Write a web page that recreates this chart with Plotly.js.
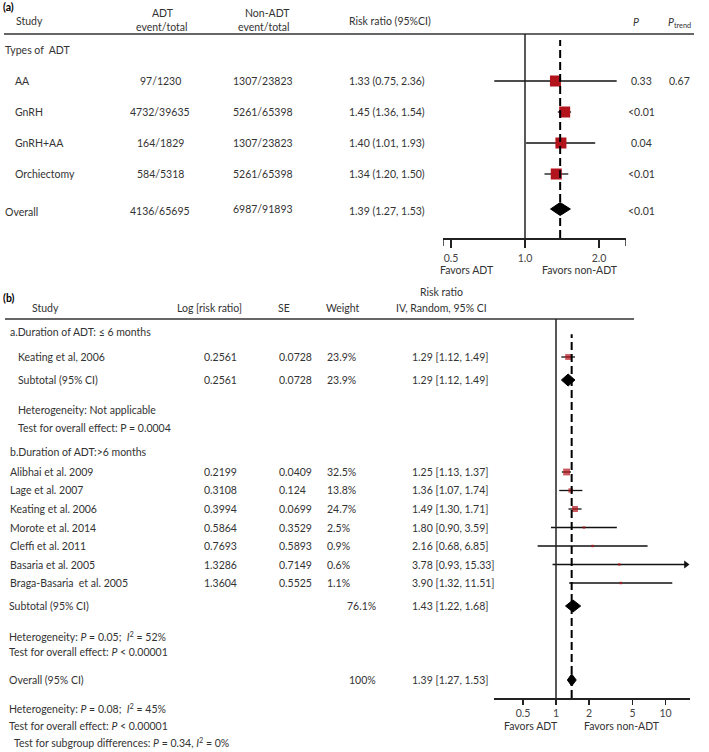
<!DOCTYPE html>
<html>
<head>
<meta charset="utf-8">
<script src="https://cdn.plot.ly/plotly-3.0.1.min.js"></script>
<style>html,body{margin:0;padding:0;background:#fff}#chart{width:709px;height:752px}</style>
</head>
<body>
<div id="chart"></div>
<script>
// ---------- DATA: panel (a) ----------
const typesA = ['AA', 'GnRH', 'GnRH+AA', 'Orchiectomy'];
const adtA = ['97/1230', '4732/39635', '164/1829', '584/5318'];
const nonAdtA = ['1307/23823', '5261/65398', '1307/23823', '5261/65398'];
const rrA = [1.33, 1.45, 1.40, 1.34];
const loA = [0.75, 1.36, 1.01, 1.20];
const hiA = [2.36, 1.54, 1.93, 1.50];
const pA = ['0.33', '<0.01', '0.04', '<0.01'];
const pTrendA = '0.67';
const overallAdtA = '4136/65695';
const overallNonAdtA = '6987/91893';
const overallRrA = [1.39, 1.27, 1.53];   // estimate, lower, upper
const overallPA = '<0.01';
const ticksA = [0.5, 1.0, 2.0];

// ---------- DATA: panel (b) ----------
const studiesB1 = ['Keating et al, 2006'];
const logRrB1 = ['0.2561'];
const seB1 = ['0.0728'];
const weightB1 = [23.9];
const rrB1 = [1.29];
const loB1 = [1.12];
const hiB1 = [1.49];
const subtotalB1 = [1.29, 1.12, 1.49];
const subtotalB1Cols = ['0.2561', '0.0728', 23.9];

const studiesB2 = ['Alibhai et al. 2009', 'Lage et al. 2007', 'Keating et al. 2006', 'Morote et al. 2014',
  'Cleffi et al. 2011', 'Basaria et al. 2005', 'Braga-Basaria  et al. 2005'];
const logRrB2 = ['0.2199', '0.3108', '0.3994', '0.5864', '0.7693', '1.3286', '1.3604'];
const seB2 = ['0.0409', '0.124', '0.0699', '0.3529', '0.5893', '0.7149', '0.5525'];
const weightB2 = [32.5, 13.8, 24.7, 2.5, 0.9, 0.6, 1.1];
const rrB2 = [1.25, 1.36, 1.49, 1.80, 2.16, 3.78, 3.90];
const loB2 = [1.13, 1.07, 1.30, 0.90, 0.68, 0.93, 1.32];
const hiB2 = [1.37, 1.74, 1.71, 3.59, 6.85, 15.33, 11.51];
const subtotalB2 = [1.43, 1.22, 1.68];
const subtotalB2Weight = 76.1;
const overallB = [1.39, 1.27, 1.53];
const overallBWeight = 100;
const ticksB = [0.5, 1, 2, 5, 10];

const notesB1 = ['Heterogeneity: Not applicable', 'Test for overall effect: P = 0.0004'];
const notesB2 = ['Heterogeneity: <i>P</i> = 0.05;  <i>I</i><sup>2</sup> = 52%', 'Test for overall effect: <i>P</i> &lt; 0.00001'];
const notesAll = ['Heterogeneity: <i>P</i> = 0.08;  <i>I</i><sup>2</sup> = 45%', 'Test for overall effect: <i>P</i> &lt; 0.00001',
  'Test for subgroup differences: <i>P</i> = 0.34, <i>I</i><sup>2</sup> = 0%'];

// ---------- LAYOUT HELPERS ----------
const W = 709, H = 752;
const px = x => x / W;
const py = y => 1 - y / H;
const FONT = 'Lato, Open Sans, sans-serif';
const FS = 10.5;
const TXT = '#333';
const RED = '#b3131b';
const ann = [];
function t(text, x, y, anchor, opt) {
  opt = opt || {};
  ann.push({ xref: 'paper', yref: 'paper', x: px(x), y: py(y), text: text, showarrow: false,
    xanchor: anchor || 'left', yanchor: 'middle',
    font: { family: FONT, size: opt.size || FS, color: opt.color || TXT } });
}
const f2 = v => v.toFixed(2);

// row slots (table layout)
const rowA = i => 81 + 31 * i;
const rowOverallA = 211;
const rowB1 = i => 357 + 18.5 * i;
const rowSubB1 = 380;
const rowB2 = i => 472 + 18.5 * i;
const rowSubB2 = 606;
const rowOverallB = 680;

// ---------- Panel (a) text ----------
t('<b>(a)</b>', 1, 7, 'left', { color: '#000' });
t('Study', 14, 21);
t('ADT', 163, 13, 'center');
t('event/total', 161, 27, 'center');
t('Non-ADT', 267, 13, 'center');
t('event/total', 263, 27, 'center');
t('Risk ratio (95%CI)', 347, 21);
t('<i>P</i>', 636, 22, 'center');
t('<i>P</i><sub>trend</sub>', 666, 23);
t('Types of  ADT', 3, 50);
typesA.forEach((n, i) => {
  const y = rowA(i);
  t(n, 13, y);
  t(adtA[i], 160, y, 'center');
  t(nonAdtA[i], 263, y, 'center');
  t(f2(rrA[i]) + ' (' + f2(loA[i]) + ', ' + f2(hiA[i]) + ')', 347, y);
  t(pA[i].replace('<', '&lt;'), 641, y, 'center');
});
t(pTrendA, 679, rowA(0), 'center');
t('Overall', 3, rowOverallA + 1);
t(overallAdtA, 160, rowOverallA, 'center');
t(overallNonAdtA, 263, rowOverallA - 2, 'center');
t(f2(overallRrA[0]) + ' (' + f2(overallRrA[1]) + ', ' + f2(overallRrA[2]) + ')', 347, rowOverallA);
t(overallPA.replace('<', '&lt;'), 641, rowOverallA, 'center');
t('Favors ADT', 467, 270, 'center');
t('Favors non-ADT', 580, 270, 'center');

// ---------- Panel (b) text ----------
t('<b>(b)</b>', 1, 298, 'left', { color: '#000' });
t('Study', 30, 308);
t('Log [risk ratio]', 209, 308, 'center');
t('SE', 284, 308, 'center');
t('Weight', 343, 308, 'center');
t('Risk ratio', 441, 292, 'center');
t('IV, Random, 95% CI', 441, 308, 'center');
t('a.Duration of ADT: ≤ 6 months', 8, 332);
studiesB1.forEach((n, i) => {
  const y = rowB1(i);
  t(n, 16, y);
  t(logRrB1[i], 202, y);
  t(seB1[i], 277, y);
  t(weightB1[i] + '%', 325, y);
  t(f2(rrB1[i]) + ' [' + f2(loB1[i]) + ', ' + f2(hiB1[i]) + ']', 410, y);
});
t('Subtotal (95% CI)', 16, rowSubB1);
t(subtotalB1Cols[0], 202, rowSubB1);
t(subtotalB1Cols[1], 277, rowSubB1);
t(subtotalB1Cols[2] + '%', 325, rowSubB1);
t(f2(subtotalB1[0]) + ' [' + f2(subtotalB1[1]) + ', ' + f2(subtotalB1[2]) + ']', 410, rowSubB1);
t(notesB1[0], 16, 410);
t(notesB1[1], 16, 428);
t('b.Duration of ADT:>6 months', 8, 452);
studiesB2.forEach((n, i) => {
  const y = rowB2(i);
  t(n.replace('  ', '&nbsp; '), 8, y);
  t(logRrB2[i], 202, y);
  t(seB2[i], 277, y);
  t(weightB2[i] + '%', 325, y);
  t(f2(rrB2[i]) + ' [' + f2(loB2[i]) + ', ' + f2(hiB2[i]) + ']', 410, y);
});
t('Subtotal (95% CI)', 7, rowSubB2);
t(subtotalB2Weight + '%', 345, rowSubB2);
t(f2(subtotalB2[0]) + ' [' + f2(subtotalB2[1]) + ', ' + f2(subtotalB2[2]) + ']', 410, rowSubB2);
t(notesB2[0], 7, 636);
t(notesB2[1], 7, 652);
t('Overall (95% CI)', 7, rowOverallB);
t(overallBWeight + '%', 347, rowOverallB);
t(f2(overallB[0]) + ' [' + f2(overallB[1]) + ', ' + f2(overallB[2]) + ']', 410, rowOverallB);
t(notesAll[0], 7, 708);
t(notesAll[1], 7, 726);
t(notesAll[2], 12, 742);
t('Favors ADT', 531, 726, 'center');
t('Favors non-ADT', 622, 726, 'center');

// ---------- Traces ----------
const traces = [];
function whiskers(x, lo, hi, y, xa, ya) {
  traces.push({ type: 'scatter', mode: 'markers', x: x, y: y, xaxis: xa, yaxis: ya,
    marker: { size: 1, opacity: 0 }, hoverinfo: 'skip',
    error_x: { type: 'data', symmetric: false, array: hi.map((h, i) => h - x[i]),
      arrayminus: lo.map((l, i) => x[i] - l), width: 0, thickness: 1.3, color: '#111' } });
}
function boxes(x, y, sizes, xa, ya) {
  traces.push({ type: 'scatter', mode: 'markers', x: x, y: y, xaxis: xa, yaxis: ya,
    marker: { symbol: 'square', size: sizes, color: RED, line: { width: 0 } }, hoverinfo: 'skip' });
}
function diamond(est, y, half, xa, ya) {
  traces.push({ type: 'scatter', mode: 'lines', xaxis: xa, yaxis: ya, fill: 'toself', fillcolor: '#000',
    line: { color: '#000', width: 1 }, hoverinfo: 'skip',
    x: [est[1], est[0], est[2], est[0], est[1]], y: [y, y - half, y, y + half, y] });
}
// panel a
const yA = typesA.map((_, i) => rowA(i));
whiskers(rrA, loA, hiA, yA, 'x', 'y');
boxes(rrA, yA, 11, 'x', 'y');
diamond(overallRrA, rowOverallA - 2, 6.5, 'x', 'y');
// panel b
const yB1 = studiesB1.map((_, i) => rowB1(i));
const yB2 = studiesB2.map((_, i) => rowB2(i));
const boxSize = w => Math.max(2.5, 12 * Math.sqrt(w / 100));
whiskers(rrB1.concat(rrB2), loB1.concat(loB2), hiB1.concat(hiB2), yB1.concat(yB2), 'x2', 'y2');
const ARROW_CUT = 15;
const arrowIdx = hiB2.map((h, i) => h > ARROW_CUT ? i : -1).filter(i => i >= 0);
traces.push({ type: 'scatter', mode: 'markers', xaxis: 'x2', yaxis: 'y2', hoverinfo: 'skip',
  x: arrowIdx.map(i => hiB2[i]), y: arrowIdx.map(i => yB2[i]),
  marker: { symbol: 'triangle-right', size: 7, color: '#111' } });
boxes(rrB1.concat(rrB2), yB1.concat(yB2), weightB1.concat(weightB2).map(boxSize), 'x2', 'y2');
diamond(subtotalB1, rowSubB1, 6, 'x2', 'y2');
diamond(subtotalB2, rowSubB2, 6, 'x2', 'y2');
diamond(overallB, rowOverallB, 6, 'x2', 'y2');

// ---------- Axes ----------
// panel a: 1.0 at x=525px, 74 px per doubling, axis from 443 to 626 px
const A_LEFT = 443, A_RIGHT = 626, A_ONE = 525, A_DBL = 74;
const aMin = Math.pow(2, (A_LEFT - A_ONE) / A_DBL), aMax = Math.pow(2, (A_RIGHT - A_ONE) / A_DBL);
// panel b: 1 at 556px, 109.6 px per decade, axis from 494 to 690 px
const B_LEFT = 494, B_RIGHT = 690, B_ONE = 556, B_DEC = 109.6;
const bMinL = (B_LEFT - B_ONE) / B_DEC, bMaxL = (B_RIGHT - B_ONE) / B_DEC;

const axisCommon = { type: 'log', showgrid: false, zeroline: false, showline: true, linecolor: '#222', linewidth: 1.5,
  ticks: 'outside', tickcolor: '#222', tickwidth: 1.5, tickfont: { family: FONT, size: FS, color: '#444' }, fixedrange: true };
const yCommon = { visible: false, showgrid: false, zeroline: false, fixedrange: true };

const layout = {
  width: W, height: H, margin: { l: 0, r: 0, t: 0, b: 0 }, showlegend: false,
  paper_bgcolor: '#fff', plot_bgcolor: 'rgba(0,0,0,0)', font: { family: FONT, size: FS, color: TXT },
  xaxis: Object.assign({}, axisCommon, { domain: [px(A_LEFT), px(A_RIGHT)], anchor: 'y',
    range: [Math.log10(aMin), Math.log10(aMax)], ticklen: 8, ticklabelstandoff: 2,
    tickvals: ticksA, ticktext: ticksA.map(v => v.toFixed(1)) }),
  yaxis: Object.assign({}, yCommon, { domain: [py(238), py(34)], range: [238, 34] }),
  xaxis2: Object.assign({}, axisCommon, { domain: [px(B_LEFT), px(B_RIGHT)], anchor: 'y2',
    range: [bMinL, bMaxL], ticklen: 5, tickvals: ticksB, ticktext: ticksB.map(String) }),
  yaxis2: Object.assign({}, yCommon, { domain: [py(698), py(319)], range: [698, 319] }),
  shapes: [
    // header rules
    { type: 'line', xref: 'paper', yref: 'paper', x0: px(4), x1: px(694), y0: py(34), y1: py(34), line: { color: '#333', width: 1.5 } },
    { type: 'line', xref: 'paper', yref: 'paper', x0: px(5), x1: px(634), y0: py(319), y1: py(319), line: { color: '#333', width: 1.5 } },
    // end ticks of panel (a) axis
    { type: 'line', xref: 'x', yref: 'paper', x0: aMin, x1: aMin, y0: py(238), y1: py(246), line: { color: '#222', width: 1.5 } },
    { type: 'line', xref: 'x', yref: 'paper', x0: aMax, x1: aMax, y0: py(238), y1: py(246), line: { color: '#222', width: 1.5 } },
    // no-effect lines
    { type: 'line', xref: 'x', yref: 'y domain', x0: 1, x1: 1, y0: 0, y1: 1, line: { color: '#222', width: 1.5 } },
    { type: 'line', xref: 'x2', yref: 'y2 domain', x0: 1, x1: 1, y0: 0, y1: 1, line: { color: '#222', width: 1.5 } },
    // pooled-estimate dashed lines
    { type: 'line', xref: 'x', yref: 'y domain', x0: overallRrA[0], x1: overallRrA[0], y0: 0, y1: 0.97,
      line: { color: '#000', width: 2, dash: '8px,4px' } },
    { type: 'line', xref: 'x2', yref: 'y2 domain', x0: overallB[0], x1: overallB[0], y0: 0, y1: 0.96,
      line: { color: '#000', width: 2, dash: '8px,4px' } }
  ],
  annotations: ann
};

Plotly.newPlot('chart', traces, layout, { staticPlot: true, displayModeBar: false });
</script>
</body>
</html>
